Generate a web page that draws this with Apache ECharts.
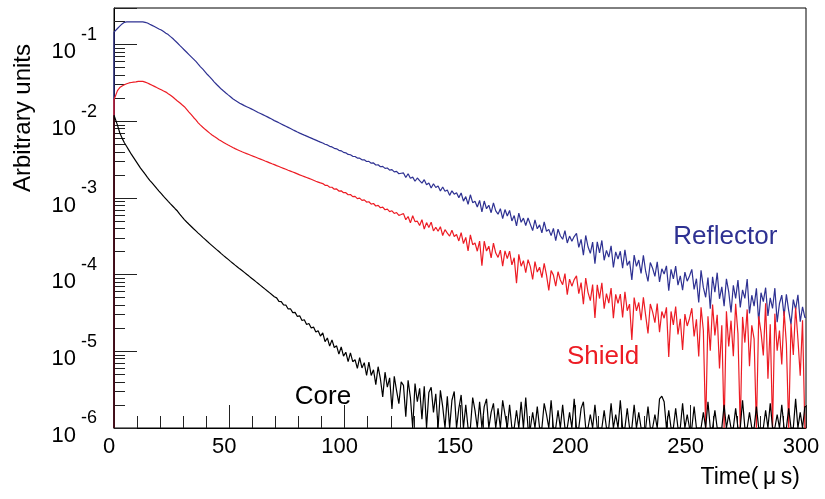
<!DOCTYPE html>
<html>
<head>
<meta charset="utf-8">
<script src="https://cdn.jsdelivr.net/npm/echarts@6/dist/echarts.min.js"></script>
<style>
  html, body { margin: 0; padding: 0; background: #fff; }
  #chart { width: 825px; height: 499px; }
</style>
</head>
<body>
<div id="chart"></div>
<script>
// histogram bins, 1 µs wide, starting at t = 0
const binWidth = 1
const yMin = 1e-6
const yMax = 0.3

// Reflector (blue)
const reflector = [
  1.45e-1, 1.62e-1, 1.74e-1, 1.86e-1, 1.95e-1, 1.98e-1, 1.98e-1, 1.98e-1, 1.98e-1, 1.98e-1,
  1.98e-1, 1.98e-1, 1.98e-1, 1.95e-1, 1.91e-1, 1.84e-1, 1.78e-1, 1.72e-1, 1.66e-1, 1.60e-1,
  1.55e-1, 1.48e-1, 1.41e-1, 1.35e-1, 1.27e-1, 1.20e-1, 1.12e-1, 1.05e-1, 9.77e-2, 9.12e-2,
  8.51e-2, 7.94e-2, 7.41e-2, 6.92e-2, 6.46e-2, 6.03e-2, 5.56e-2, 5.13e-2, 4.79e-2, 4.42e-2,
  4.07e-2, 3.80e-2, 3.51e-2, 3.24e-2, 3.02e-2, 2.82e-2, 2.63e-2, 2.48e-2, 2.34e-2, 2.21e-2,
  2.09e-2, 1.97e-2, 1.88e-2, 1.80e-2, 1.72e-2, 1.66e-2, 1.60e-2, 1.55e-2, 1.50e-2, 1.45e-2,
  1.40e-2, 1.35e-2, 1.30e-2, 1.26e-2, 1.22e-2, 1.18e-2, 1.14e-2, 1.10e-2, 1.06e-2, 1.02e-2,
  9.89e-3, 9.55e-3, 9.23e-3, 8.91e-3, 8.61e-3, 8.32e-3, 8.04e-3, 7.76e-3, 7.50e-3, 7.24e-3,
  7.00e-3, 6.79e-3, 6.59e-3, 6.40e-3, 6.21e-3, 6.03e-3, 5.85e-3, 5.68e-3, 5.51e-3, 5.35e-3,
  5.21e-3, 5.01e-3, 4.92e-3, 4.71e-3, 4.63e-3, 4.44e-3, 4.37e-3, 4.18e-3, 4.12e-3, 3.93e-3,
  3.88e-3, 3.70e-3, 3.66e-3, 3.49e-3, 3.47e-3, 3.31e-3, 3.30e-3, 3.14e-3, 3.15e-3, 2.99e-3,
  3.00e-3, 2.84e-3, 2.86e-3, 2.69e-3, 2.71e-3, 2.55e-3, 2.58e-3, 2.43e-3, 2.46e-3, 2.31e-3,
  2.34e-3, 2.19e-3, 2.22e-3, 2.07e-3, 2.10e-3, 2.12e-3, 1.85e-3, 2.07e-3, 1.81e-3, 1.87e-3,
  1.65e-3, 1.82e-3, 1.68e-3, 1.56e-3, 1.73e-3, 1.49e-3, 1.57e-3, 1.35e-3, 1.53e-3, 1.37e-3,
  1.43e-3, 1.23e-3, 1.39e-3, 1.22e-3, 1.27e-3, 1.08e-3, 1.24e-3, 1.12e-3, 1.17e-3, 1.01e-3,
  1.16e-3, 9.09e-4, 1.04e-3, 8.28e-4, 1.10e-3, 8.67e-4, 9.07e-4, 7.62e-4, 9.27e-4, 6.57e-4,
  9.12e-4, 7.24e-4, 8.03e-4, 6.42e-4, 8.63e-4, 6.80e-4, 6.14e-4, 7.24e-4, 5.37e-4, 7.06e-4,
  5.83e-4, 6.88e-4, 5.01e-4, 5.90e-4, 4.31e-4, 6.35e-4, 4.82e-4, 5.46e-4, 4.37e-4, 5.47e-4,
  4.52e-4, 3.76e-4, 5.19e-4, 3.96e-4, 4.45e-4, 3.51e-4, 4.86e-4, 3.68e-4, 3.89e-4, 3.23e-4,
  4.01e-4, 2.78e-4, 3.91e-4, 3.21e-4, 2.89e-4, 3.74e-4, 2.59e-4, 3.18e-4, 2.72e-4, 3.14e-4,
  3.46e-4, 2.27e-4, 2.89e-4, 1.79e-4, 3.24e-4, 2.31e-4, 1.90e-4, 2.65e-4, 1.39e-4, 2.67e-4,
  1.92e-4, 2.79e-4, 1.54e-4, 2.07e-4, 1.69e-4, 2.38e-4, 1.24e-4, 1.98e-4, 1.60e-4, 2.02e-4,
  1.21e-4, 2.10e-4, 1.32e-4, 1.51e-4, 8.53e-5, 1.80e-4, 1.28e-4, 1.55e-4, 1.04e-4, 1.78e-4,
  1.10e-4, 8.18e-5, 1.44e-4, 1.21e-4, 9.48e-5, 1.47e-4, 8.06e-5, 1.19e-4, 1.02e-4, 1.30e-4,
  6.18e-5, 1.17e-4, 8.80e-5, 1.29e-4, 7.31e-5, 9.66e-5, 6.28e-5, 1.08e-4, 8.21e-5, 9.58e-5,
  1.17e-4, 6.40e-5, 8.84e-5, 4.33e-5, 1.14e-4, 6.82e-5, 5.07e-5, 9.15e-5, 3.60e-5, 9.35e-5,
  5.91e-5, 1.06e-4, 4.84e-5, 6.93e-5, 3.89e-5, 8.80e-5, 5.96e-5, 3.21e-5, 7.27e-5, 4.89e-5,
  8.48e-5, 3.74e-5, 6.34e-5, 4.89e-5, 8.75e-5, 3.11e-5, 5.39e-5, 3.89e-5, 6.63e-5, 2.41e-5,
  5.81e-5, 4.45e-5, 6.76e-5, 2.90e-5, 4.97e-5, 3.62e-5, 6.66e-5, 2.40e-5, 4.20e-5, 5.40e-5,
  2.90e-5, 5.54e-5, 3.40e-5, 2.25e-5, 4.72e-5, 3.53e-5, 5.46e-5, 2.43e-5, 3.79e-5, 2.77e-5
]

// Shield (red)
const shield = [
  1.91e-2, 2.51e-2, 2.75e-2, 2.88e-2, 2.99e-2, 3.09e-2, 3.16e-2, 3.20e-2, 3.24e-2, 3.27e-2,
  3.31e-2, 3.31e-2, 3.31e-2, 3.24e-2, 3.16e-2, 3.05e-2, 2.95e-2, 2.85e-2, 2.75e-2, 2.66e-2,
  2.57e-2, 2.48e-2, 2.40e-2, 2.29e-2, 2.19e-2, 2.07e-2, 1.95e-2, 1.84e-2, 1.74e-2, 1.64e-2,
  1.55e-2, 1.43e-2, 1.32e-2, 1.22e-2, 1.12e-2, 1.04e-2, 9.55e-3, 8.91e-3, 8.36e-3, 7.85e-3,
  7.41e-3, 7.00e-3, 6.64e-3, 6.31e-3, 6.03e-3, 5.75e-3, 5.52e-3, 5.30e-3, 5.09e-3, 4.90e-3,
  4.72e-3, 4.55e-3, 4.40e-3, 4.26e-3, 4.12e-3, 4.00e-3, 3.89e-3, 3.78e-3, 3.68e-3, 3.58e-3,
  3.48e-3, 3.39e-3, 3.30e-3, 3.21e-3, 3.12e-3, 3.03e-3, 2.95e-3, 2.87e-3, 2.79e-3, 2.72e-3,
  2.64e-3, 2.57e-3, 2.50e-3, 2.43e-3, 2.37e-3, 2.30e-3, 2.24e-3, 2.18e-3, 2.12e-3, 2.06e-3,
  2.00e-3, 1.95e-3, 1.90e-3, 1.85e-3, 1.80e-3, 1.75e-3, 1.70e-3, 1.65e-3, 1.61e-3, 1.57e-3,
  1.54e-3, 1.46e-3, 1.46e-3, 1.38e-3, 1.38e-3, 1.30e-3, 1.31e-3, 1.23e-3, 1.24e-3, 1.17e-3,
  1.17e-3, 1.10e-3, 1.11e-3, 1.04e-3, 1.05e-3, 9.82e-4, 9.95e-4, 9.30e-4, 9.43e-4, 8.84e-4,
  8.93e-4, 8.32e-4, 8.46e-4, 7.86e-4, 7.99e-4, 7.45e-4, 7.58e-4, 7.02e-4, 7.16e-4, 6.63e-4,
  6.80e-4, 6.28e-4, 6.45e-4, 5.93e-4, 6.08e-4, 6.25e-4, 5.20e-4, 5.73e-4, 4.73e-4, 5.86e-4,
  4.91e-4, 4.98e-4, 4.37e-4, 5.20e-4, 3.93e-4, 4.77e-4, 4.13e-4, 4.84e-4, 3.71e-4, 4.15e-4,
  3.68e-4, 4.22e-4, 3.24e-4, 3.86e-4, 3.47e-4, 3.18e-4, 3.79e-4, 3.15e-4, 3.34e-4, 2.75e-4,
  3.54e-4, 2.54e-4, 3.06e-4, 2.04e-4, 3.30e-4, 2.46e-4, 2.59e-4, 2.02e-4, 2.74e-4, 1.31e-4,
  2.73e-4, 2.03e-4, 2.35e-4, 1.65e-4, 2.58e-4, 1.91e-4, 1.68e-4, 2.09e-4, 1.29e-4, 2.04e-4,
  1.62e-4, 2.03e-4, 1.34e-4, 1.66e-4, 7.75e-5, 1.84e-4, 1.29e-4, 1.52e-4, 1.06e-4, 1.57e-4,
  1.27e-4, 8.64e-5, 1.48e-4, 1.08e-4, 1.25e-4, 9.12e-5, 1.40e-4, 9.84e-5, 6.24e-5, 1.13e-4,
  9.86e-5, 7.09e-5, 1.09e-4, 8.51e-5, 7.39e-5, 1.03e-4, 5.48e-5, 8.73e-5, 7.07e-5, 8.62e-5,
  9.63e-5, 5.64e-5, 7.88e-5, 4.12e-5, 9.03e-5, 5.88e-5, 4.58e-5, 7.44e-5, 2.72e-5, 7.36e-5,
  4.88e-5, 7.84e-5, 3.60e-5, 5.64e-5, 4.26e-5, 6.68e-5, 2.71e-5, 5.53e-5, 4.22e-5, 5.58e-5,
  2.77e-5, 5.99e-5, 3.38e-5, 4.13e-5, 1.41e-5, 5.02e-5, 3.36e-5, 4.33e-5, 2.54e-5, 5.06e-5,
  2.92e-5, 1.71e-5, 4.14e-5, 3.27e-5, 2.37e-5, 4.19e-5, 1.78e-5, 3.30e-5, 2.70e-5, 3.74e-5,
  8.43e-6, 3.31e-5, 2.21e-5, 3.83e-5, 1.66e-5, 2.66e-5, 1.04e-5, 3.06e-5, 2.14e-5, 2.68e-5,
  3.65e-5, 1.56e-5, 2.62e-5, 8.56e-6, 3.76e-5, 1.87e-5, 0, 2.87e-5, 1.02e-5, 4.06e-5,
  1.61e-5, 3.00e-5, 5.97e-6, 2.18e-5, 0, 3.32e-5, 1.16e-5, 2.51e-5, 8.64e-6, 4.18e-5,
  1.70e-5, 0, 2.81e-5, 1.30e-5, 3.52e-5, 6.41e-6, 2.18e-5, 1.45e-5, 0, 2.86e-5,
  1.78e-5, 8.85e-6, 4.22e-5, 4.38e-6, 2.26e-5, 0, 3.10e-5, 1.02e-5, 1.86e-5, 6.72e-6,
  3.34e-5, 1.25e-5, 0, 2.30e-5, 8.97e-6, 3.73e-5, 1.45e-5, 4.80e-6, 2.54e-5, 0
]

// Core (black)
const core = [
  1.20e-2, 8.91e-3, 7.08e-3, 6.03e-3, 5.25e-3, 4.68e-3, 4.17e-3, 3.72e-3, 3.35e-3, 3.02e-3,
  2.72e-3, 2.45e-3, 2.24e-3, 2.04e-3, 1.86e-3, 1.70e-3, 1.57e-3, 1.45e-3, 1.33e-3, 1.23e-3,
  1.14e-3, 1.05e-3, 9.75e-4, 9.04e-4, 8.39e-4, 7.80e-4, 7.24e-4, 6.75e-4, 6.14e-4, 5.65e-4,
  5.21e-4, 4.86e-4, 4.54e-4, 4.25e-4, 3.97e-4, 3.72e-4, 3.48e-4, 3.27e-4, 3.06e-4, 2.88e-4,
  2.70e-4, 2.54e-4, 2.39e-4, 2.25e-4, 2.12e-4, 2.00e-4, 1.88e-4, 1.77e-4, 1.67e-4, 1.58e-4,
  1.49e-4, 1.41e-4, 1.33e-4, 1.26e-4, 1.19e-4, 1.13e-4, 1.07e-4, 1.01e-4, 9.57e-5, 9.06e-5,
  8.57e-5, 8.10e-5, 7.66e-5, 7.24e-5, 6.84e-5, 6.47e-5, 6.11e-5, 5.78e-5, 5.46e-5, 5.16e-5,
  4.98e-5, 4.49e-5, 4.45e-5, 4.03e-5, 4.01e-5, 3.57e-5, 3.59e-5, 3.20e-5, 3.22e-5, 2.85e-5,
  2.90e-5, 2.52e-5, 2.58e-5, 2.24e-5, 2.31e-5, 2.01e-5, 2.07e-5, 1.78e-5, 1.86e-5, 1.58e-5,
  1.74e-5, 1.34e-5, 1.49e-5, 1.17e-5, 1.41e-5, 1.12e-5, 1.18e-5, 9.20e-6, 1.14e-5, 8.67e-6,
  9.73e-6, 7.34e-6, 9.53e-6, 7.32e-6, 7.78e-6, 6.00e-6, 8.30e-6, 6.07e-6, 7.12e-6, 4.84e-6,
  7.26e-6, 4.85e-6, 5.75e-6, 3.68e-6, 6.30e-6, 4.36e-6, 2.55e-6, 5.34e-6, 3.42e-6, 4.51e-6,
  1.77e-6, 4.71e-6, 3.08e-6, 2.08e-6, 4.00e-6, 3.60e-6, 1.40e-6, 4.20e-6, 2.50e-6, 0,
  3.80e-6, 2.20e-6, 3.30e-6, 1.30e-6, 3.50e-6, 0, 2.90e-6, 3.40e-6, 1.60e-6, 2.80e-6,
  0, 3.10e-6, 1.90e-6, 0, 2.60e-6, 0, 2.30e-6, 3.00e-6, 0, 1.80e-6,
  2.70e-6, 0, 2.00e-6, 0, 0, 2.50e-6, 1.70e-6, 0, 2.20e-6, 0,
  1.90e-6, 2.40e-6, 0, 1.60e-6, 2.10e-6, 0, 1.80e-6, 0, 2.30e-6, 1.50e-6,
  0, 2.00e-6, 0, 0, 1.70e-6, 0, 2.20e-6, 0, 2.50e-6, 0,
  0, 1.60e-6, 0, 1.90e-6, 0, 0, 2.10e-6, 1.50e-6, 0, 2.30e-6,
  0, 0, 1.70e-6, 0, 2.00e-6, 0, 0, 1.60e-6, 0, 2.40e-6,
  0, 0, 1.80e-6, 2.20e-6, 0, 0, 1.50e-6, 0, 2.00e-6, 0,
  0, 0, 1.70e-6, 0, 0, 2.10e-6, 0, 1.50e-6, 0, 2.30e-6,
  0, 0, 1.80e-6, 0, 0, 2.00e-6, 0, 1.60e-6, 0, 0,
  0, 1.90e-6, 0, 0, 1.50e-6, 0, 2.40e-6, 2.60e-6, 2.20e-6, 0,
  1.70e-6, 0, 0, 1.80e-6, 0, 0, 2.10e-6, 0, 1.50e-6, 0,
  0, 1.90e-6, 0, 0, 0, 1.60e-6, 0, 2.20e-6, 0, 0,
  1.70e-6, 0, 0, 0, 2.00e-6, 0, 1.50e-6, 0, 0, 1.80e-6,
  0, 0, 2.30e-6, 0, 0, 1.60e-6, 0, 0, 1.90e-6, 0,
  0, 0, 1.70e-6, 0, 2.10e-6, 0, 0, 1.50e-6, 0, 2.00e-6,
  0, 0, 1.80e-6, 0, 0, 2.40e-6, 0, 1.60e-6, 0, 1.90e-6
]

const blue = '#2e3192'
const red = '#ed1c24'
const font = 'Liberation Sans, Arial, Helvetica, sans-serif'

// bin contents -> points at bin centres; empty bins sit on the axis floor like ROOT draws them
function histogram (values) {
  const floor = v => (v > 0 ? v : yMin)
  const pts = [[0, yMin], [0, floor(values[0])]]
  values.forEach((v, i) => pts.push([(i + 0.5) * binWidth, floor(v)]))
  pts.push([values.length * binWidth, floor(values[values.length - 1])])
  return pts
}

function histSeries (name, values, color, labelCoord) {
  return {
    name: name,
    type: 'line',
    symbol: 'none',
    data: histogram(values),
    lineStyle: { color: color, width: 1.2 },
    itemStyle: { color: color },
    markPoint: {
      silent: true,
      symbol: 'circle',
      symbolSize: 0,
      label: {
        show: true,
        position: 'inside',
        formatter: name,
        color: color,
        fontSize: 26,
        fontFamily: font
      },
      data: [{ coord: labelCoord }]
    }
  }
}

const myChart = echarts.init(document.getElementById('chart'))
const option = {
  animation: false,
  grid: {
    left: 114, right: 19, top: 8, bottom: 71,
    show: true, borderColor: '#000', borderWidth: 1
  },
  xAxis: {
    type: 'value',
    min: 0,
    max: 300,
    interval: 50,
    axisLine: { lineStyle: { color: '#000', width: 1 } },
    axisTick: { inside: true, length: 23, lineStyle: { color: '#222' } },
    minorTick: { show: true, splitNumber: 5, length: 12, lineStyle: { color: '#222' } },
    splitLine: { show: false },
    axisLabel: { color: '#000', fontSize: 22, fontFamily: font, margin: 8, padding: [0, 10, 0, 0] },
    name: 'Time(\u2009\u03bc\u2009s)',
    nameLocation: 'end',
    nameGap: -6,
    nameTextStyle: { color: '#000', fontSize: 23, fontFamily: font, align: 'right', verticalAlign: 'top', padding: [38, 0, 0, 0] }
  },
  yAxis: {
    type: 'log',
    logBase: 10,
    min: yMin,
    max: yMax,
    axisLine: { lineStyle: { color: '#000', width: 1 } },
    axisTick: { inside: true, length: 23, lineStyle: { color: '#222' } },
    minorTick: { show: true, splitNumber: 9, length: 11, lineStyle: { color: '#222' } },
    splitLine: { show: false },
    minorSplitLine: { show: false },
    axisLabel: {
      showMaxLabel: false,
      margin: 17,
      color: '#000',
      fontFamily: font,
      formatter: function (v) {
        return '{b|10}{e|' + Math.round(Math.log10(v)) + '}'
      },
      rich: {
        b: { fontSize: 22, fontFamily: font, color: '#000', verticalAlign: 'bottom' },
        e: { fontSize: 18, fontFamily: font, color: '#000', verticalAlign: 'bottom', padding: [0, 0, 19, 5] }
      }
    },
    name: 'Arbitrary units',
    nameLocation: 'middle',
    nameRotate: 90,
    nameGap: 79,
    nameTextStyle: { color: '#000', fontSize: 24, fontFamily: font, padding: [0, 0, 0, 200] }
  },
  series: [
    histSeries('Reflector', reflector, blue, [265, 3.1e-4]),
    histSeries('Shield', shield, red, [212, 8.4e-6]),
    histSeries('Core', core, '#000', [90.6, 2.58e-6])
  ]
}
myChart.setOption(option)
</script>
</body>
</html>
